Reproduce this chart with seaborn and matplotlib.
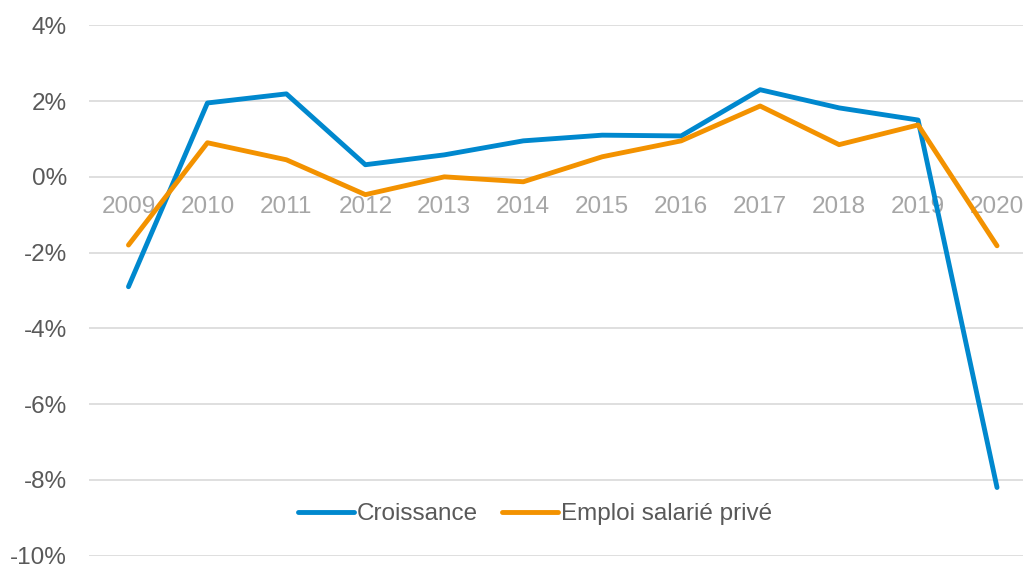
import numpy as np
import pandas as pd
import matplotlib
matplotlib.use("Agg")
import matplotlib.pyplot as plt
import matplotlib.ticker as mticker
import seaborn as sns

years = ["2009", "2010", "2011", "2012", "2013", "2014",
         "2015", "2016", "2017", "2018", "2019", "2020"]
croissance = [-2.9, 1.95, 2.19, 0.32, 0.58, 0.95, 1.1, 1.08, 2.3, 1.82, 1.5, -8.2]
emploi = [-1.8, 0.9, 0.45, -0.47, 0.0, -0.13, 0.53, 0.95, 1.87, 0.85, 1.37, -1.82]
series_names = ["Croissance", "Emploi salarié privé"]
series_colours = ["#0088CE", "#F39200"]

df = pd.DataFrame({
    "x": list(range(len(years))) * 2,
    "value": croissance + emploi,
    "serie": [series_names[0]] * len(years) + [series_names[1]] * len(years),
})

sns.set_theme(style="white")
plt.rcParams["font.family"] = ["Liberation Sans", "DejaVu Sans"]
FS = 17.5

fig = plt.figure(figsize=(10.23, 5.65), dpi=100)
ax = fig.add_axes([89 / 1023, 9.3 / 565, 947.5 / 1023, 530.4 / 565])

sns.lineplot(data=df, x="x", y="value", hue="serie",
             palette=dict(zip(series_names, series_colours)),
             linewidth=3.5, ax=ax, legend=False)

ax.set_xlim(-0.5, len(years) - 0.5)
ax.set_ylim(-10, 4)
ax.yaxis.set_major_locator(mticker.MultipleLocator(2))
ax.yaxis.set_major_formatter(mticker.FuncFormatter(lambda v, p: f"{v:.0f}%"))
ax.grid(axis="y", color="#d9d9d9", linewidth=1.2)
ax.set_axisbelow(True)
for s in ax.spines.values():
    s.set_visible(False)

# year labels sit just under the 0% line
ax.spines["bottom"].set_position(("data", 0))
ax.set_xticks(range(len(years)))
ax.set_xticklabels(years)
ax.tick_params(axis="x", length=0, pad=14, labelsize=FS, labelcolor="#a6a6a6")
ax.tick_params(axis="y", length=0, pad=16, labelsize=FS, labelcolor="#595959")
ax.set_xlabel("")
ax.set_ylabel("")

handles = [plt.Line2D([], [], color=c, linewidth=3.5, solid_capstyle="round")
           for c in series_colours]
fig.legend(handles, series_names, loc="center",
           bbox_to_anchor=(535 / 1023, (565 - 514) / 565),
           ncol=2, frameon=False, fontsize=FS, labelcolor="#595959",
           handlelength=2.3, handletextpad=0.12, columnspacing=1.0)

fig.savefig("out.png", dpi=100)
plt.close(fig)
